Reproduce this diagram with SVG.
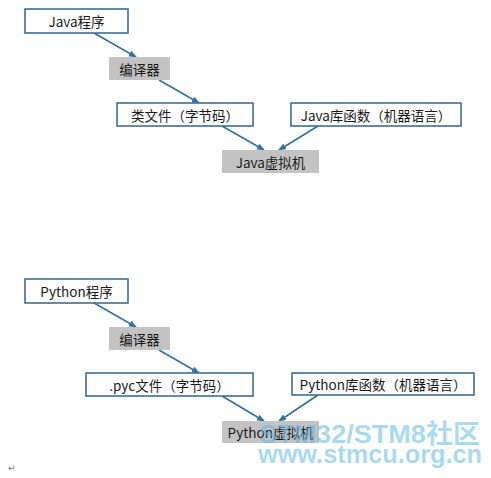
<svg xmlns="http://www.w3.org/2000/svg" width="491" height="478" viewBox="0 0 491 478">
<style>
.box{fill:#fff;stroke:#3d6f93;stroke-width:1.6}
.gray{fill:#c3c3c3;stroke:none}
.t{font-family:"Noto Sans CJK SC","Noto Sans",sans-serif;font-size:13.5px;fill:#1a1a1a;text-anchor:middle;dominant-baseline:central}
.c{stroke:#3271a0;stroke-width:1.6;fill:none;marker-end:url(#ah)}
.wm{font-family:"Liberation Sans","Noto Sans CJK SC",sans-serif;font-weight:bold;fill:#5fb8e8;fill-opacity:0.55}
</style>
<defs>
<marker id="ah" markerWidth="8" markerHeight="8" refX="7" refY="4" orient="auto" markerUnits="userSpaceOnUse">
<path d="M0,0.8 L8,4 L0,7.2 Z" fill="#3271a0"/>
</marker>
</defs>
<rect width="491" height="478" fill="#fff"/>
<g id="connectors">
<line class="c" x1="94" y1="33" x2="136" y2="57"/>
<line class="c" x1="159" y1="80" x2="199" y2="103"/>
<line class="c" x1="222" y1="126" x2="264" y2="150"/>
<line class="c" x1="318" y1="126" x2="279" y2="150"/>
<line class="c" x1="94" y1="303" x2="136" y2="327"/>
<line class="c" x1="159" y1="350" x2="199" y2="373"/>
<line class="c" x1="222" y1="396" x2="264" y2="421"/>
<line class="c" x1="318" y1="395" x2="279" y2="421"/>
</g>
<g id="java-program"><rect class="box" x="25" y="9" width="103" height="24"/><text class="t" x="76.5" y="21">Java程序</text></g>
<g id="java-compiler"><rect class="gray" x="109" y="57" width="61" height="23"/><text class="t" x="139.5" y="68.5">编译器</text></g>
<g id="java-class"><rect class="box" x="117" y="103" width="136" height="23"/><text class="t" x="185" y="114.5">类文件（字节码）</text></g>
<g id="java-lib"><rect class="box" x="291" y="103" width="170" height="23"/><text class="t" x="376" y="114.5">Java库函数（机器语言）</text></g>
<g id="java-vm"><rect class="gray" x="222" y="150" width="97" height="23"/><text class="t" x="270.5" y="161.5">Java虚拟机</text></g>
<g id="python-program"><rect class="box" x="25" y="279" width="103" height="24"/><text class="t" x="76.5" y="291">Python程序</text></g>
<g id="python-compiler"><rect class="gray" x="109" y="327" width="61" height="23"/><text class="t" x="139.5" y="338.5">编译器</text></g>
<g id="python-pyc"><rect class="box" x="86" y="373" width="167" height="23"/><text class="t" x="169.5" y="384.5">.pyc文件（字节码）</text></g>
<g id="python-lib"><rect class="box" x="292" y="373" width="182" height="22"/><text class="t" x="383" y="384">Python库函数（机器语言）</text></g>
<g id="python-vm"><rect class="gray" x="222" y="421" width="97" height="22"/><text class="t" x="270.5" y="432">Python虚拟机</text></g>
<text x="8" y="471" font-family="DejaVu Sans,sans-serif" font-size="9" fill="#777">↵</text>
<text class="wm" x="259" y="443" font-size="26" textLength="221" lengthAdjust="spacingAndGlyphs">STM32/STM8社区</text>
<text class="wm" x="258" y="463" font-size="25" textLength="224" lengthAdjust="spacingAndGlyphs">www.stmcu.org.cn</text>
</svg>
